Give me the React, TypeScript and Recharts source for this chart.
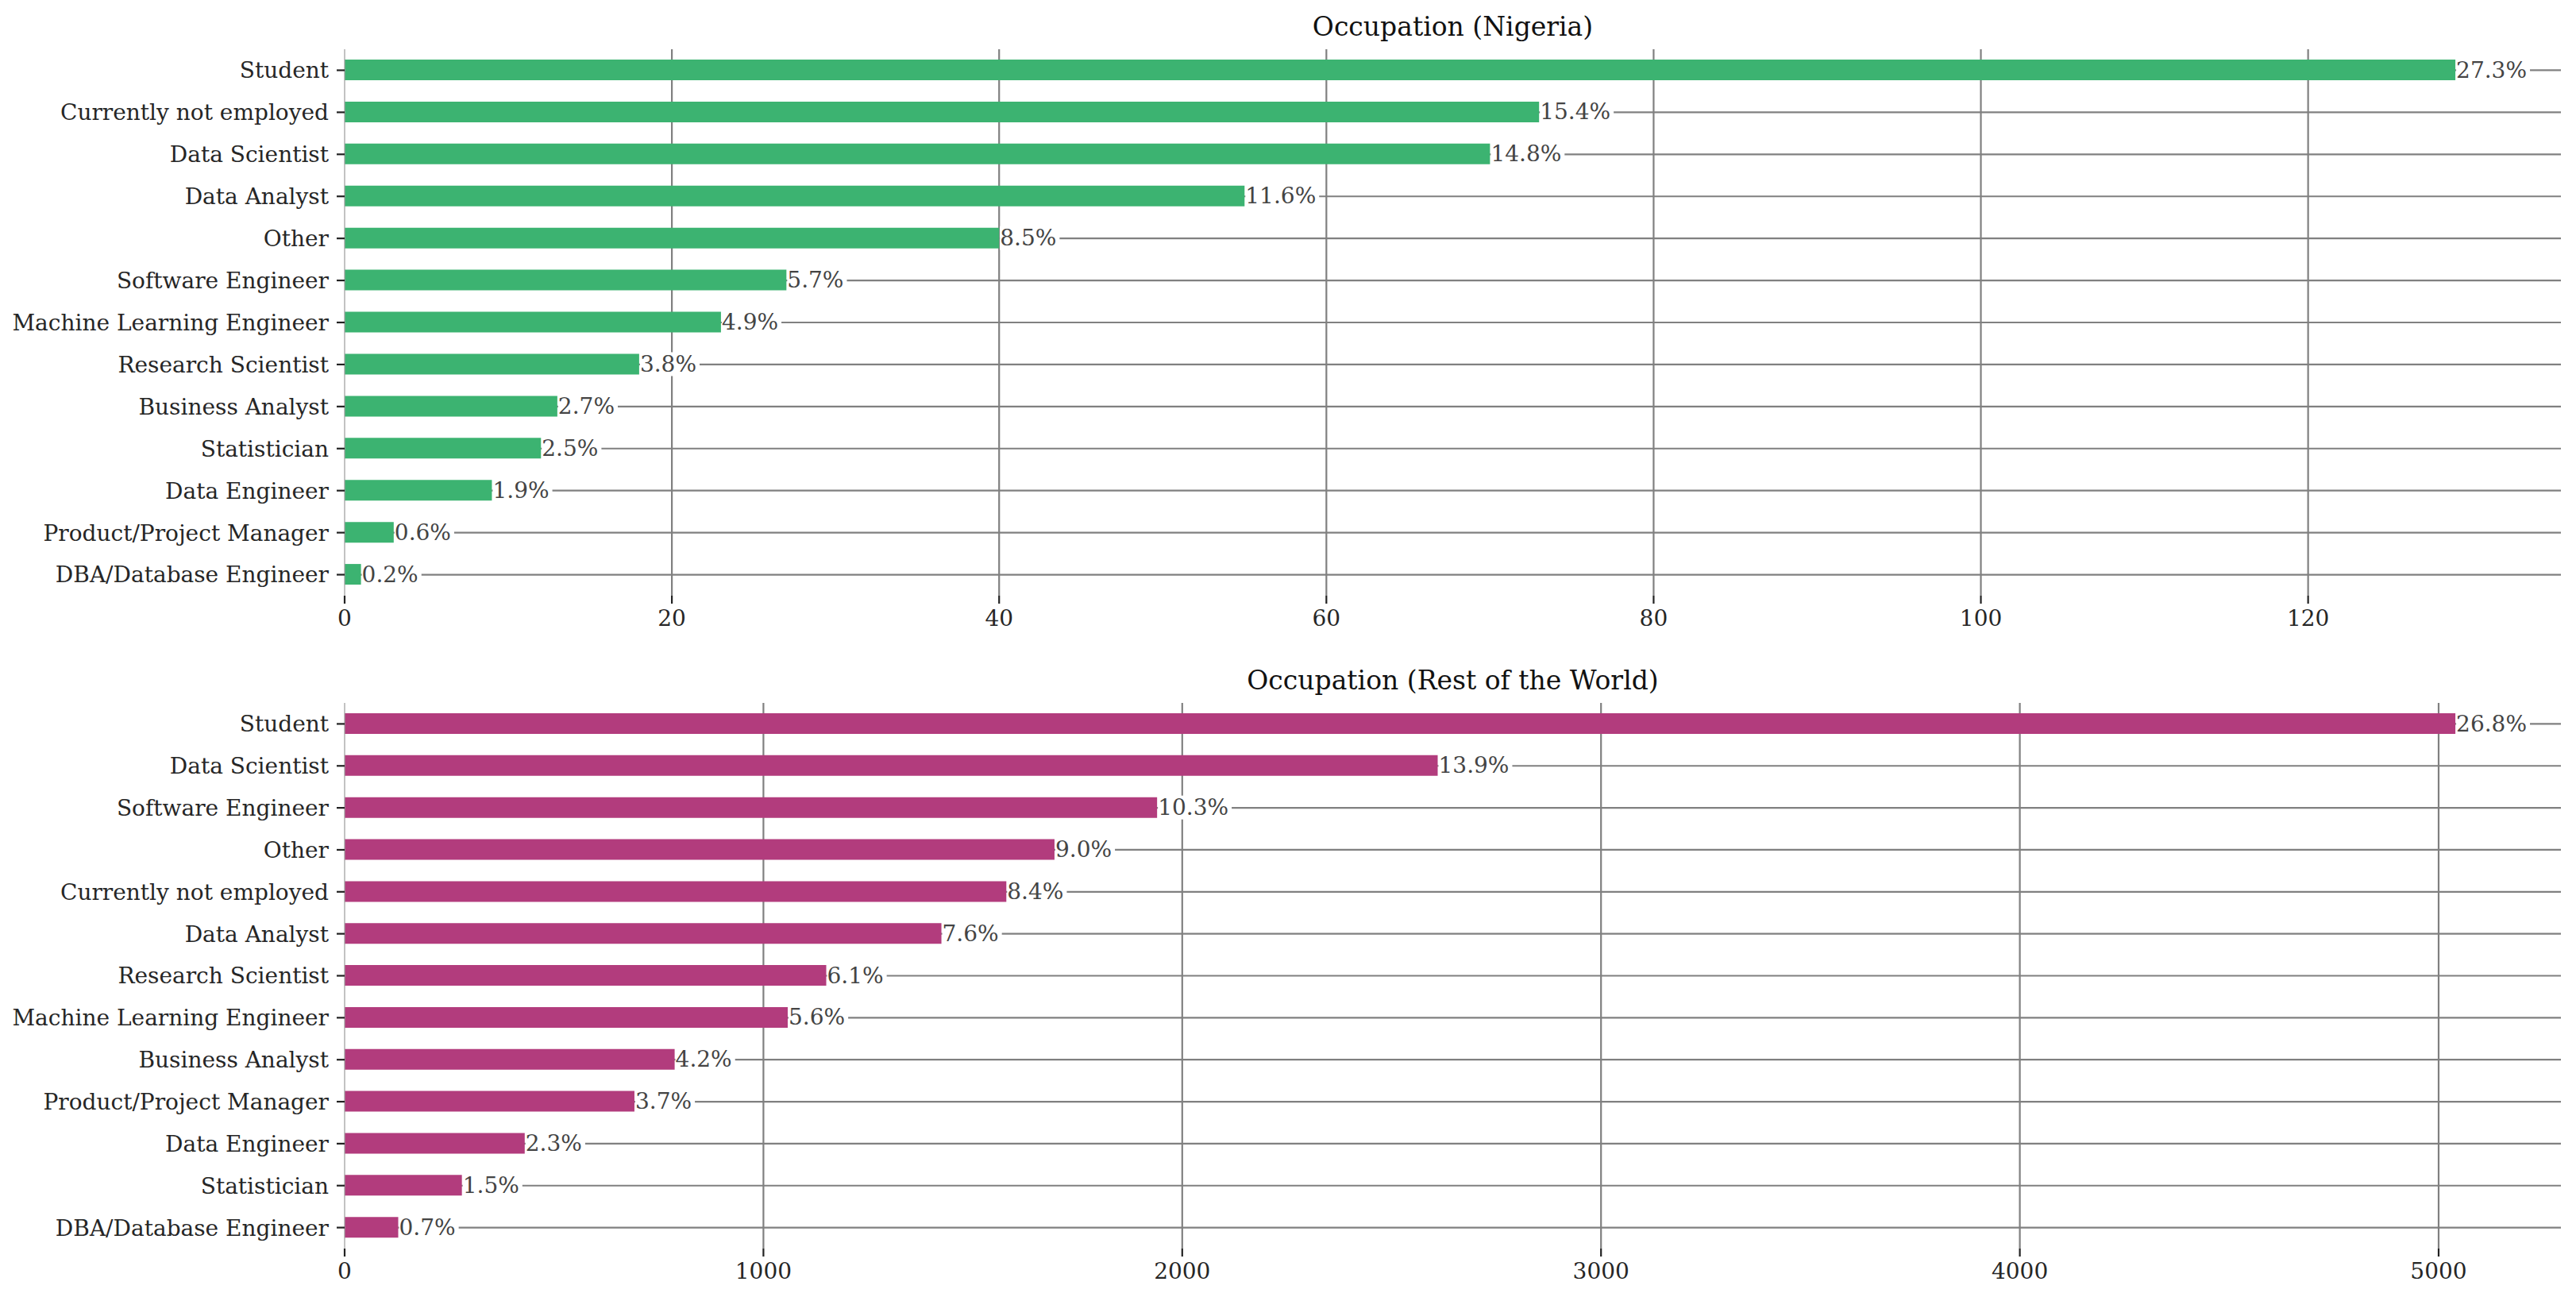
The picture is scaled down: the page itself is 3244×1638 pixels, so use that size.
import React from 'react';
import { BarChart, Bar, XAxis, YAxis, CartesianGrid, LabelList } from 'recharts';

const nigeriaRoles = [
  'Student',
  'Currently not employed',
  'Data Scientist',
  'Data Analyst',
  'Other',
  'Software Engineer',
  'Machine Learning Engineer',
  'Research Scientist',
  'Business Analyst',
  'Statistician',
  'Data Engineer',
  'Product/Project Manager',
  'DBA/Database Engineer',
];
const nigeriaCounts = [129, 73, 70, 55, 40, 27, 23, 18, 13, 12, 9, 3, 1];
const nigeriaTicks = [0, 20, 40, 60, 80, 100, 120];

const worldRoles = [
  'Student',
  'Data Scientist',
  'Software Engineer',
  'Other',
  'Currently not employed',
  'Data Analyst',
  'Research Scientist',
  'Machine Learning Engineer',
  'Business Analyst',
  'Product/Project Manager',
  'Data Engineer',
  'Statistician',
  'DBA/Database Engineer',
];
const worldCounts = [5040, 2610, 1940, 1695, 1580, 1425, 1150, 1058, 788, 692, 430, 280, 128];
const worldTicks = [0, 1000, 2000, 3000, 4000, 5000];

const FONT = '"DejaVu Serif", serif';
const W = 3244;
const H = 819;
const AXIS_W = 434;

const charEm: Record<string, number> = { '.': 0.318, '%': 0.95 };
const textWidth = (s: string, size: number) =>
  s.split('').reduce((acc, c) => acc + (charEm[c] ?? 0.636), 0) * size;

const PctLabel = (props: any) => {
  const { x, y, width, height, value } = props;
  const tx = Number(x) + Number(width) + 1;
  const cy = Number(y) + Number(height) / 2;
  const w = textWidth(String(value), 28);
  return (
    <g>
      <rect x={tx} y={cy - 15} width={w + 4} height={30} fill="#ffffff" />
      <text
        x={tx}
        y={cy}
        dominantBaseline="central"
        fontFamily={FONT}
        fontSize={28}
        fill="#444444"
      >
        {value}
      </text>
    </g>
  );
};

interface PanelProps {
  title: string;
  roles: string[];
  counts: number[];
  ticks: number[];
  color: string;
  top: number;
  marginTop: number;
  axisH: number;
}

const Panel: React.FC<PanelProps> = ({ title, roles, counts, ticks, color, top, marginTop, axisH }) => {
  const total = counts.reduce((a, b) => a + b, 0);
  const data = roles.map((role, i) => ({
    role,
    count: counts[i],
    pct: ((counts[i] / total) * 100).toFixed(1) + '%',
  }));
  const max = Math.max(...counts) * 1.05;

  // skip the grid line at 0, the left spine sits there
  const gridX = ({ offset }: any) =>
    ticks.slice(1).map((t) => offset.left + (t / max) * offset.width);
  // one line through the middle of each category band, none on the edges
  const gridY = ({ offset }: any) =>
    roles.map((_, i) => offset.top + ((i + 0.5) * offset.height) / roles.length);

  return (
    <div style={{ position: 'absolute', left: 0, top, width: W, height: H }}>
      <div
        style={{
          position: 'absolute',
          left: AXIS_W,
          width: W - AXIS_W - 19,
          top: marginTop - 48,
          textAlign: 'center',
          fontFamily: FONT,
          fontSize: 33,
          lineHeight: '40px',
          color: '#111',
        }}
      >
        {title}
      </div>
      <BarChart
        width={W}
        height={H}
        data={data}
        layout="vertical"
        margin={{ top: marginTop, right: 19, left: 0, bottom: 0 }}
      >
        <CartesianGrid
          stroke="#808080"
          strokeWidth={2.2}
          verticalCoordinatesGenerator={gridX}
          horizontalCoordinatesGenerator={gridY}
        />
        <XAxis
          type="number"
          domain={[0, max]}
          ticks={ticks}
          allowDataOverflow
          height={axisH}
          axisLine={false}
          tickSize={10}
          tickMargin={8}
          tickLine={{ stroke: '#222', strokeWidth: 2.2 }}
          tick={{ fontFamily: FONT, fontSize: 28, fill: '#262626' }}
        />
        <YAxis
          type="category"
          dataKey="role"
          width={AXIS_W}
          interval={0}
          axisLine={{ stroke: '#9a9a9a', strokeWidth: 1.2 }}
          tickSize={10}
          tickMargin={10}
          tickLine={{ stroke: '#222', strokeWidth: 2.2 }}
          tick={{ fontFamily: FONT, fontSize: 28, fill: '#262626' }}
        />
        <Bar dataKey="count" fill={color} barSize={26} isAnimationActive={false}>
          <LabelList dataKey="pct" content={PctLabel} />
        </Bar>
      </BarChart>
    </div>
  );
};

const App: React.FC = () => (
  <div style={{ position: 'absolute', left: 0, top: 0, width: W, height: 1638, background: '#fff' }}>
    <Panel
      title="Occupation (Nigeria)"
      roles={nigeriaRoles}
      counts={nigeriaCounts}
      ticks={nigeriaTicks}
      color="#3CB371"
      top={0}
      marginTop={62}
      axisH={69}
    />
    <Panel
      title="Occupation (Rest of the World)"
      roles={worldRoles}
      counts={worldCounts}
      ticks={worldTicks}
      color="#B23C7D"
      top={819}
      marginTop={66}
      axisH={66}
    />
  </div>
);

export default App;
